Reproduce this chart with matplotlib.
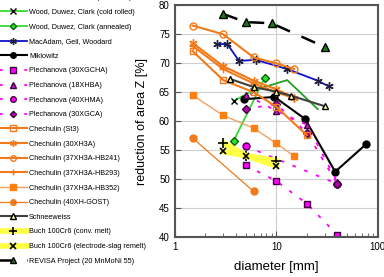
import matplotlib
matplotlib.use("Agg")
import matplotlib.pyplot as plt
from matplotlib.ticker import FixedLocator, FixedFormatter, LogLocator, NullFormatter

plt.rcParams['font.family'] = ['Liberation Sans', 'DejaVu Sans']

# --- data (diameter in mm, reduction of area in %) ---
hot_d = [5.9, 12.8, 25.6]
hot_z = [65.3, 67.1, 62.1]
cold_d = [3.8, 5.9]
cold_z = [63.5, 65.3]
ann_d = [3.8, 7.7]
ann_z = [56.6, 67.5]
macadam_d = [2.6, 3.3, 4.3, 6.3, 12.8, 25.6, 33.0]
macadam_z = [73.3, 73.3, 70.4, 70.6, 69.0, 67.0, 66.0]
miklo_d = [4.8, 9.6, 19.2, 38.0, 76.0]
miklo_z = [63.8, 64.2, 60.4, 51.3, 56.0]
p30xgcha_d = [5, 10, 20, 40]
p30xgcha_z = [52.4, 49.7, 45.8, 40.4]
p18xhba_d = [5, 10, 20, 40]
p18xhba_z = [64.6, 61.8, 59.4, 49.5]
p40xhma_d = [5, 40]
p40xhma_z = [55.7, 49.2]
p30xgca_d = [5, 10, 20, 40]
p30xgca_z = [62.1, 63.0, 58.0, 49.2]
st3_d = [1.5, 3, 6, 10, 20]
st3_z = [72.1, 67.1, 65.0, 62.5, 57.6]
x30h3a_d = [1.5, 3, 6, 10, 15]
x30h3a_z = [73.5, 69.5, 67.0, 65.5, 64.1]
hb241_d = [1.5, 3, 6, 10, 15]
hb241_z = [76.5, 75.0, 71.0, 70.0, 69.0]
hb293_d = [1.5, 3, 6, 10, 15]
hb293_z = [73.0, 69.0, 66.5, 65.0, 64.0]
hb352_d = [1.5, 3, 6, 10, 15]
hb352_z = [64.5, 61.0, 58.8, 56.2, 54.0]
gost_d = [1.5, 6]
gost_z = [57.1, 47.9]
schnee_d = [3.5, 6, 10, 14, 30]
schnee_z = [67.3, 65.9, 65.1, 64.4, 62.6]
buch_conv_d = [3, 5, 10]
buch_conv_z = [56.3, 54.1, 53.2]
buch_esr_d = [3, 5, 10]
buch_esr_z = [54.8, 54.1, 52.3]
revisa_d = [3, 5, 9, 30]
revisa_z = [78.5, 77.1, 76.9, 72.8]

orange = '#f27a1a'
magenta = '#ff00ff'

fig = plt.figure(figsize=(3.84, 2.77), dpi=100)
ax = fig.add_axes([0.455, 0.1433, 0.529, 0.8377])

ax.plot(hot_d, hot_z, color='#22a022', lw=1.3, label='Wood, Duwez, Clark (hot rolled)')
ax.plot(cold_d, cold_z, color='#33dd33', lw=1.3, marker='x', mec='black', ms=5,
        label='Wood, Duwez, Clark (cold rolled)')
ax.plot(ann_d, ann_z, color='#33dd33', lw=1.3, marker='D', mfc='#33dd33', mec='#006600', ms=4,
        label='Wood, Duwez, Clark (annealed)')
ax.plot(macadam_d, macadam_z, color='#1010d0', lw=1.3, marker=(6, 2, 0), mec='#202040', ms=6,
        label='MacAdam, Geil, Woodard')
ax.plot(miklo_d, miklo_z, color='black', lw=1.5, marker='o', mfc='black', ms=5,
        label='Miklowitz')
ax.plot(p30xgcha_d, p30xgcha_z, color=magenta, lw=1.3, ls=(0, (2, 5)), marker='s', mfc=magenta,
        mec='#400040', ms=5, label='Plechanova (30XGCHA)')
ax.plot(p18xhba_d, p18xhba_z, color=magenta, lw=1.3, ls=(0, (2, 5)), marker='^', mfc='#c020c0',
        mec='#400040', ms=5, label='Plechanova (18XHBA)')
ax.plot(p40xhma_d, p40xhma_z, color=magenta, lw=1.3, ls=(0, (2, 5)), marker='o', mfc=magenta,
        mec='#400040', ms=5, label='Plechanova (40XHMA)')
ax.plot(p30xgca_d, p30xgca_z, color=magenta, lw=1.3, ls=(0, (2, 5)), marker='D', mfc='#b000b0',
        mec='#400040', ms=4, label='Plechanova (30XGCA)')
ax.plot(st3_d, st3_z, color=orange, lw=1.5, marker='s', mfc='none', mec=orange, ms=5,
        label='Chechulin (St3)')
ax.plot(x30h3a_d, x30h3a_z, color=orange, lw=1.5, marker=(6, 2, 0), mec=orange, ms=6,
        label='Chechulin (30XH3A)')
ax.plot(hb241_d, hb241_z, color=orange, lw=1.5, marker='o', mfc='none', mec=orange, ms=5,
        label='Chechulin (37XH3A-HB241)')
ax.plot(hb293_d, hb293_z, color=orange, lw=1.5, marker='+', mec=orange, ms=6,
        label='Chechulin (37XH3A-HB293)')
ax.plot(hb352_d, hb352_z, color='#f5a060', lw=1.0, marker='s', mfc='#ff7f10', mec='#ff7f10', ms=5,
        label='Chechulin (37XH3A-HB352)')
ax.plot(gost_d, gost_z, color=orange, lw=0.9, marker='o', mfc=orange, mec=orange, ms=5,
        label='Chechulin (40XH-GOST)')
ax.plot(schnee_d, schnee_z, color='#404040', lw=1.5, marker='^', mfc='#ffff99', mec='black', ms=5,
        label='Schneeweiss')
ax.plot(buch_conv_d, buch_conv_z, color='#ffff44', lw=4, marker='+', mec='black', ms=7, mew=1.2,
        label='Buch 100Cr6 (conv. melt)')
ax.plot(buch_esr_d, buch_esr_z, color='#ffff44', lw=4, marker='x', mec='black', ms=5, mew=1.2,
        label='Buch 100Cr6 (electrode-slag remelt)')
ax.plot(revisa_d, revisa_z, color='black', lw=1.8, ls=(0, (6, 5)), marker='^', mfc='#1a7a1a',
        mec='black', ms=6, label='REVISA Project (20 MnMoNi 55)')

ax.set_xscale('log')
ax.set_xlim(1, 100)
ax.set_ylim(40, 80)
ax.xaxis.set_major_locator(FixedLocator([1, 10, 100]))
ax.xaxis.set_major_formatter(FixedFormatter(['1', '10', '100']))
ax.xaxis.set_minor_locator(LogLocator(base=10, subs=range(2, 10)))
ax.xaxis.set_minor_formatter(NullFormatter())
ax.set_yticks(range(40, 81, 5))
ax.tick_params(direction='in', labelsize=7, length=4, color='#555555')
ax.tick_params(which='minor', direction='in', length=3, color='#555555')
ax.grid(True, which='major', color='#d0d0d0', lw=0.8)
ax.set_axisbelow(True)
for s in ax.spines.values():
    s.set_color('#555555')
    s.set_linewidth(1.5)

ax.set_xlabel('diameter [mm]', fontsize=9.5, labelpad=6)
ax.set_ylabel('reduction of area Z [%]', fontsize=9)
ax.yaxis.set_label_coords(-0.13, 0.5)

fig.legend(loc='upper left', bbox_to_anchor=(-0.005, 1.021), frameon=False, fontsize=5.2,
           labelspacing=1.05, handlelength=4.0, handletextpad=0.3, borderaxespad=0,
           borderpad=0, markerscale=0.8)

fig.savefig('out.png', dpi=100)
